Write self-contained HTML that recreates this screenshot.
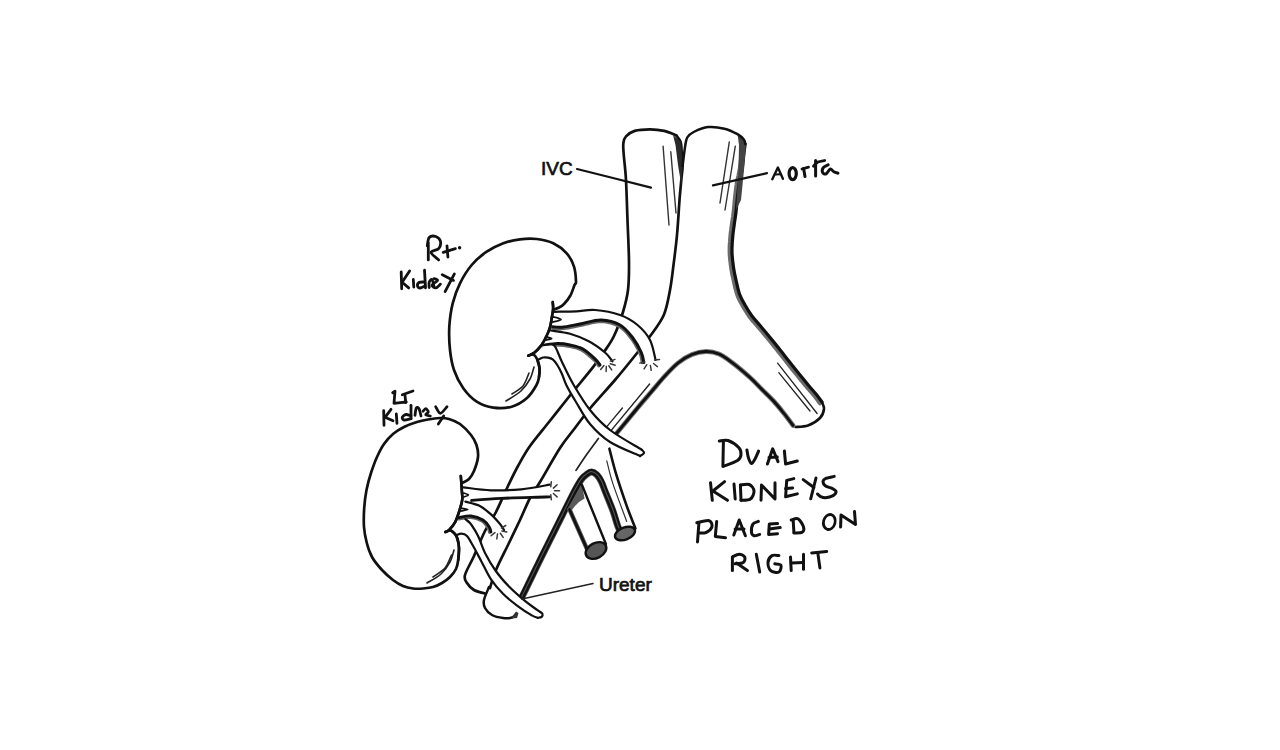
<!DOCTYPE html>
<html><head><meta charset="utf-8"><style>
html,body{margin:0;padding:0;background:#fff;}
body{width:1280px;height:750px;overflow:hidden;position:relative;}
svg{position:absolute;left:0;top:0;}
.lbl{position:absolute;font-family:"Liberation Sans",sans-serif;color:#111;white-space:nowrap;line-height:1;}
</style></head><body>
<svg width="1280" height="750" viewBox="0 0 1280 750" fill="none" stroke-linecap="round" stroke-linejoin="round">
<path d="M742.6 143.6 L742.5 144.3 L742.4 145.1 L742.3 146.0 L742.1 147.1 L742.0 148.3 L741.8 149.6 L741.6 151.1 L741.4 152.7 L741.2 154.5 L741.0 156.5 L740.8 158.7 L740.5 161.0 L740.3 163.3 L740.0 165.5 L739.7 167.7 L739.4 169.6 L739.1 171.3 L738.8 173.0 L738.4 174.5 L738.1 176.1 L737.7 177.6 L737.3 179.2 L737.0 180.8 L736.6 182.6 L736.4 184.3 L736.1 186.1 L735.9 187.8 L735.7 189.6 L735.5 191.4 L735.3 193.1 L735.1 194.9 L734.9 196.7 L734.7 198.6 L734.5 200.5 L734.3 202.4 L734.2 204.3 L734.0 206.2 L733.8 208.1 L733.6 209.9 L733.4 211.7 L733.2 213.4 L733.0 215.1 L732.8 216.7 L732.5 218.4 L732.3 220.0 L732.1 221.6 L731.8 223.1 L731.6 224.6 L731.4 226.1 L731.2 227.4 L731.0 228.7 L730.9 230.0 L730.7 231.3 L730.5 232.7 L730.4 234.1 L730.2 235.8 L730.1 237.5 L729.9 239.4 L729.8 241.4 L729.6 243.5 L729.5 245.7 L729.4 247.8 L729.4 250.0 L729.4 252.1 L729.5 254.2 L729.6 256.3 L729.8 258.4 L730.0 260.5 L730.3 262.6 L730.5 264.6 L730.8 266.5 L731.0 268.4 L731.3 270.1 L731.6 271.7 L731.8 273.2 L732.1 274.7 L732.4 276.1 L732.8 277.5 L733.1 279.0 L733.5 280.6 L733.8 282.2 L734.2 284.0 L734.6 285.8 L735.0 287.7 L735.5 289.5 L736.0 291.4 L736.5 293.2 L737.1 294.9 L737.7 296.5 L738.3 298.0 L739.0 299.5 L739.7 300.9 L740.5 302.3 L741.2 303.6 L742.0 304.9 L742.7 306.3 L743.5 307.7 L744.4 309.1 L745.2 310.5 L746.1 311.9 L747.0 313.4 L748.0 314.8 L748.9 316.2 L749.9 317.6 L751.0 318.9 L752.0 320.3 L753.1 321.6 L754.3 322.8 L755.4 324.1 L756.5 325.3 L757.5 326.5 L758.5 327.7 L759.5 328.8 L760.4 329.9 L761.2 330.9 L762.1 331.9 L763.0 333.0 L763.9 334.1 L764.9 335.3 L766.0 336.7 L767.2 338.1 L768.5 339.7 L769.9 341.4 L771.3 343.1 L772.7 344.8 L774.1 346.6 L775.6 348.4 L777.0 350.1 L778.3 351.9 L779.7 353.6 L781.1 355.4 L782.5 357.2 L783.9 358.9 L785.3 360.7 L786.6 362.4 L788.0 364.1 L789.3 365.8 L790.6 367.4 L791.8 369.0 L793.1 370.6 L794.3 372.1 L795.6 373.6 L796.8 375.2 L798.0 376.6 L799.2 378.1 L800.3 379.6 L801.5 381.0 L802.7 382.4 L803.8 383.8 L804.9 385.2 L806.0 386.4 L807.0 387.7 L808.0 388.8 L809.0 389.9 L809.9 391.0 L810.8 391.9 L811.6 392.9 L812.4 393.8 L813.2 394.7 L814.0 395.6 L814.8 396.7 L815.6 397.8 L816.5 398.9 L817.3 400.0 L818.1 401.1 L818.8 402.1 L819.4 402.9 L819.9 403.5" fill="none" stroke="#6a6a6a" stroke-width="3.6" />
<path d="M745.2 144.0 C745.0 145.5 744.5 148.7 744.0 153.0 C743.5 157.3 742.8 165.0 742.0 170.0 C741.2 175.0 740.0 178.5 739.2 183.0 C738.5 187.5 738.0 192.2 737.5 197.0 C737.0 201.8 736.5 207.3 736.0 212.0 C735.5 216.7 734.7 221.0 734.2 225.0 C733.7 229.0 733.2 231.5 732.8 236.0 C732.4 240.5 731.9 246.7 732.0 252.0 C732.1 257.3 732.9 263.3 733.6 268.0 C734.3 272.7 735.0 275.7 736.0 280.0 C737.0 284.3 738.0 289.8 739.5 294.0 C741.0 298.2 742.9 301.3 745.0 305.0 C747.1 308.7 749.4 312.5 752.0 316.0 C754.6 319.5 757.8 322.8 760.5 326.0 C763.2 329.2 764.9 331.2 768.0 335.0 C771.1 338.8 775.3 343.9 779.0 348.5 C782.7 353.1 786.5 358.1 790.0 362.5 C793.5 366.9 796.8 371.1 800.0 375.0 C803.2 378.9 806.3 382.8 809.0 386.0 C811.7 389.2 813.8 391.3 816.0 394.0 C818.2 396.7 821.0 400.7 822.0 402.0" fill="none" stroke="#111" stroke-width="3.2" />
<path d="M737.5 134.2 L744.0 139.7 L745.8 146.0 L744.0 170.0 L741.0 200.0 L736.0 210.0 L738.5 170.0 L739.0 145.0 Z" fill="#444" stroke="none"/>
<path d="M822.0 402.0 C822.3 403.2 824.3 406.3 824.0 409.0 C823.7 411.7 822.7 415.2 820.0 418.0 C817.3 420.8 812.1 424.0 808.0 425.5 C803.9 427.0 797.6 426.8 795.5 427.0" fill="none" stroke="#111" stroke-width="2.6" />
<path d="M616.0 434.0 C618.0 431.6 624.0 424.3 628.0 419.5 C632.0 414.7 636.0 409.8 640.0 405.0 C644.0 400.2 648.0 395.7 652.0 391.0 C656.0 386.3 659.7 381.7 664.0 377.0 C668.3 372.3 673.3 366.8 678.0 363.0 C682.7 359.2 687.3 356.4 692.0 354.5 C696.7 352.6 701.5 351.6 706.0 351.5 C710.5 351.4 714.7 352.2 719.0 354.0 C723.3 355.8 726.8 358.6 732.0 362.5 C737.2 366.4 745.0 373.0 750.0 377.5 C755.0 382.0 758.0 385.5 762.0 389.5 C766.0 393.5 770.3 397.5 774.0 401.5 C777.7 405.5 780.8 409.5 784.0 413.5 C787.2 417.5 791.6 423.5 793.1 425.5" fill="none" stroke="#777" stroke-width="4.8" />
<path d="M616.0 434.0 C618.0 431.6 624.0 424.3 628.0 419.5 C632.0 414.7 636.0 409.8 640.0 405.0 C644.0 400.2 648.0 395.7 652.0 391.0 C656.0 386.3 659.7 381.7 664.0 377.0 C668.3 372.3 673.3 366.8 678.0 363.0 C682.7 359.2 687.3 356.4 692.0 354.5 C696.7 352.6 701.5 351.6 706.0 351.5 C710.5 351.4 714.7 352.2 719.0 354.0 C723.3 355.8 726.8 358.6 732.0 362.5 C737.2 366.4 745.0 373.0 750.0 377.5 C755.0 382.0 758.0 385.5 762.0 389.5 C766.0 393.5 770.3 397.5 774.0 401.5 C777.7 405.5 780.8 409.5 784.0 413.5 C787.2 417.5 791.6 423.5 793.1 425.5" fill="none" stroke="#111" stroke-width="2.8" />
<path d="M777.6 363.1 L817.1 413.5" fill="none" stroke="#222" stroke-width="1.3" />
<path d="M778.8 372.7 L810.0 411.0" fill="none" stroke="#222" stroke-width="1.3" />
<path d="M649.6 384.0 L611.2 430.4" fill="none" stroke="#222" stroke-width="1.4" />
<path d="M622.4 408.0 L606.4 427.2" fill="none" stroke="#222" stroke-width="1.3" />
<path d="M598.4 438.4 C596.5 441.0 590.7 448.7 587.0 454.0 C583.3 459.3 577.8 467.7 576.0 470.4" fill="none" stroke="#222" stroke-width="1.7" />
<path d="M676.2 135.3 C674.2 134.6 668.6 131.9 664.2 130.9 C659.8 129.9 654.9 129.3 650.0 129.3 C645.1 129.3 638.7 129.7 634.7 130.9 C630.7 132.1 627.9 134.4 626.0 136.4 C624.1 138.4 623.8 140.2 623.4 143.0 C623.0 145.8 623.2 146.8 623.6 153.0 C624.0 159.2 625.4 169.0 626.0 180.2 C626.6 191.4 627.0 206.4 627.5 220.0 C628.0 233.6 628.9 250.3 629.0 262.0 C629.1 273.7 629.0 281.7 628.0 290.0 C627.0 298.3 625.3 304.3 623.0 312.0 C620.7 319.7 617.2 329.3 614.0 336.0 C610.8 342.7 607.4 346.9 604.0 352.0 C600.6 357.1 597.4 361.4 593.6 366.4 C589.8 371.4 585.3 376.7 581.0 382.0 C576.7 387.3 573.3 391.3 568.0 398.0 C562.7 404.7 555.3 414.0 549.0 422.0 C542.7 430.0 535.2 438.7 530.0 446.0 C524.8 453.3 521.7 459.3 518.0 466.0 C514.3 472.7 511.7 478.3 508.0 486.0 C504.3 493.7 499.8 504.5 496.0 512.0 C492.2 519.5 488.7 523.7 485.0 531.0 C481.3 538.3 477.3 548.7 474.0 556.0 C470.7 563.3 466.2 570.5 465.0 575.0 C463.8 579.5 465.5 580.5 467.0 583.0 C468.5 585.5 471.0 588.2 474.0 590.0 C477.0 591.8 483.2 592.9 485.0 593.5" fill="none" stroke="#111" stroke-width="2.7" />
<path d="M676.2 135.3 C676.9 136.4 679.7 139.0 680.6 141.9 C681.5 144.8 681.4 148.8 681.7 152.8 C682.0 156.8 682.6 161.8 682.6 166.0 C682.6 170.2 682.0 172.3 681.5 178.0 C681.0 183.7 680.2 190.5 679.5 200.0 C678.8 209.5 678.0 224.2 677.0 235.0 C676.0 245.8 674.7 255.8 673.5 265.0 C672.3 274.2 671.6 281.7 670.0 290.0 C668.4 298.3 667.1 307.3 663.8 315.0 C660.5 322.7 654.4 330.1 650.0 336.3 C645.6 342.6 643.3 345.2 637.5 352.5 C631.7 359.8 622.9 370.8 615.0 380.0 C607.1 389.2 597.1 400.0 590.4 408.0 C583.7 416.0 580.1 421.3 575.0 428.0 C569.9 434.7 565.8 439.0 560.0 448.0 C554.2 457.0 545.0 473.7 540.0 482.0 C535.0 490.3 533.3 491.7 530.0 498.0 C526.7 504.3 523.7 512.2 520.0 520.0 C516.3 527.8 512.0 536.7 508.0 545.0 C504.0 553.3 499.0 562.8 496.0 570.0 C493.0 577.2 491.0 585.0 490.0 588.0" fill="none" stroke="#111" stroke-width="2.7" />
<path d="M673.0 135.0 L680.6 141.5 L682.8 160.0 L681.5 186.0 L678.0 165.0 L675.5 145.0 Z" fill="#2a2a2a" stroke="none"/>
<path d="M682.6 166.0 C683.0 162.9 684.2 152.1 685.0 147.3 C685.8 142.6 685.8 140.1 687.2 137.5 C688.7 134.9 690.2 133.7 693.7 132.0 C697.2 130.3 702.9 127.6 708.0 127.1 C713.1 126.5 719.5 127.5 724.4 128.7 C729.3 129.9 734.2 132.4 737.5 134.2 C740.8 136.0 742.7 138.1 744.0 139.7 C745.3 141.3 745.0 143.3 745.2 144.0" fill="none" stroke="#111" stroke-width="2.5" />
<path d="M489.0 587.0 C488.2 589.2 484.7 596.5 484.0 600.0 C483.3 603.5 483.7 605.5 485.0 608.0 C486.3 610.5 489.0 613.3 492.0 615.0 C495.0 616.7 499.7 617.6 503.0 618.0 C506.3 618.4 509.8 618.2 512.0 617.5 C514.2 616.8 515.8 614.6 516.5 614.0" fill="none" stroke="#111" stroke-width="2.5" />
<path d="M511.0 618.5 L516.0 611.5 L518.5 613.0 L517.0 618.0 Z" fill="#333" stroke="none"/>
<path d="M663.1 146.2 L669.0 225.0" fill="none" stroke="#333" stroke-width="1.4" />
<path d="M670.8 151.7 L676.0 213.0" fill="none" stroke="#333" stroke-width="1.4" />
<path d="M729.3 141.9 L720.0 203.0" fill="none" stroke="#333" stroke-width="1.4" />
<path d="M735.3 146.2 L725.0 210.0" fill="none" stroke="#333" stroke-width="1.4" />
<path d="M577.0 169.0 L615.0 178.5 L651.0 187.6" fill="none" stroke="#111" stroke-width="2.2" />
<path d="M767.0 173.2 L755.0 175.8 L713.0 185.4" fill="none" stroke="#111" stroke-width="2.2" />
<path d="M521.0 599.0 C522.8 595.4 528.0 584.7 531.5 577.5 C535.0 570.3 538.5 563.1 542.0 556.0 C545.5 548.9 549.0 542.0 552.5 535.0 C556.0 528.0 559.6 520.8 563.0 514.0 C566.4 507.2 570.0 499.7 573.0 494.0 C576.0 488.3 578.8 483.2 581.0 480.0 C583.2 476.8 584.8 475.8 586.5 474.5 C588.2 473.2 589.8 471.9 591.5 472.0 C593.2 472.1 595.3 473.3 597.0 475.0 C598.7 476.7 600.2 479.3 601.5 482.0 C602.8 484.7 603.1 486.2 605.0 491.0 C606.9 495.8 610.6 504.6 612.8 510.5 C615.0 516.5 616.5 522.9 618.0 526.7 C619.5 530.6 620.9 532.5 621.5 533.6" fill="none" stroke="#555" stroke-width="6.8" />
<path d="M522.3 599.6 L523.1 598.0 L524.1 595.8 L525.4 593.1 L526.9 590.2 L528.4 587.1 L529.9 584.0 L531.4 580.9 L532.8 578.1 L534.1 575.4 L535.4 572.7 L536.7 570.0 L538.0 567.3 L539.3 564.6 L540.6 562.0 L541.9 559.3 L543.3 556.6 L544.6 554.0 L545.9 551.3 L547.2 548.7 L548.5 546.1 L549.8 543.5 L551.1 540.9 L552.4 538.2 L553.8 535.6 L555.1 533.0 L556.4 530.4 L557.7 527.7 L559.0 525.1 L560.4 522.4 L561.7 519.8 L563.0 517.2 L564.3 514.6 L565.5 512.0 L566.8 509.4 L568.1 506.8 L569.4 504.2 L570.7 501.6 L571.9 499.2 L573.1 496.8 L574.2 494.7 L575.3 492.6 L576.4 490.5 L577.5 488.6 L578.5 486.8 L579.5 485.1 L580.4 483.5 L581.3 482.1 L582.2 480.8 L582.9 479.7 L583.6 478.9 L584.3 478.2 L584.9 477.6 L585.5 477.0 L586.1 476.6 L586.7 476.1 L587.3 475.6 L588.0 475.1 L588.6 474.7 L589.2 474.3 L589.7 473.9 L590.2 473.7 L590.6 473.5 L591.0 473.4 L591.4 473.4 L591.9 473.5 L592.4 473.6 L593.0 473.8 L593.6 474.1 L594.2 474.5 L594.8 474.9 L595.4 475.4 L596.0 476.0 L596.6 476.6 L597.1 477.3 L597.6 478.0 L598.2 478.9 L598.7 479.8 L599.2 480.7 L599.7 481.6 L600.2 482.6 L600.7 483.5 L601.0 484.4 L601.4 485.3 L601.7 486.2 L602.1 487.2 L602.5 488.4 L603.1 489.9 L603.7 491.5 L604.5 493.5 L605.4 495.7 L606.4 498.2 L607.5 500.8 L608.6 503.5 L609.6 506.1 L610.6 508.6 L611.5 511.0 L612.3 513.2 L613.0 515.4 L613.7 517.6 L614.3 519.8 L614.9 521.9 L615.5 523.8 L616.1 525.6 L616.7 527.2 L617.3 528.6 L617.8 529.8 L618.3 530.9 L618.9 531.8 L619.3 532.6 L619.7 533.3 L620.0 533.8 L620.3 534.3" fill="none" stroke="#111" stroke-width="2.4" />
<path d="M519.3 598.2 L520.1 596.5 L521.2 594.3 L522.5 591.7 L523.9 588.8 L525.4 585.7 L526.9 582.5 L528.4 579.5 L529.8 576.7 L531.1 574.0 L532.4 571.3 L533.7 568.6 L535.0 565.9 L536.4 563.2 L537.7 560.5 L539.0 557.8 L540.3 555.2 L541.6 552.5 L542.9 549.9 L544.2 547.2 L545.6 544.6 L546.9 542.0 L548.2 539.4 L549.5 536.8 L550.8 534.1 L552.1 531.5 L553.4 528.9 L554.8 526.2 L556.1 523.6 L557.4 521.0 L558.7 518.3 L560.0 515.7 L561.3 513.2 L562.6 510.6 L563.9 507.9 L565.2 505.3 L566.5 502.7 L567.7 500.2 L569.0 497.7 L570.2 495.3 L571.3 493.1 L572.4 491.0 L573.5 489.0 L574.6 487.0 L575.6 485.2 L576.6 483.4 L577.6 481.8 L578.5 480.3 L579.4 478.9 L580.3 477.7 L581.1 476.7 L581.9 475.9 L582.6 475.1 L583.4 474.5 L584.1 474.0 L584.7 473.5 L585.4 473.0 L586.0 472.5 L586.7 472.0 L587.3 471.5 L588.1 471.1 L588.8 470.7 L589.7 470.3 L590.6 470.1 L591.6 470.1 L592.5 470.2 L593.5 470.5 L594.3 470.8 L595.2 471.2 L596.0 471.8 L596.8 472.3 L597.6 473.0 L598.4 473.7 L599.1 474.4 L599.7 475.3 L600.4 476.2 L601.0 477.1 L601.6 478.1 L602.1 479.1 L602.7 480.1 L603.2 481.2 L603.7 482.2 L604.1 483.1 L604.5 484.1 L604.8 485.1 L605.2 486.1 L605.6 487.3 L606.1 488.7 L606.8 490.3 L607.5 492.2 L608.5 494.5 L609.5 497.0 L610.6 499.6 L611.6 502.3 L612.7 504.9 L613.7 507.5 L614.6 509.9 L615.4 512.1 L616.1 514.4 L616.8 516.7 L617.5 518.8 L618.1 520.9 L618.7 522.8 L619.2 524.5 L619.8 526.0 L620.3 527.3 L620.8 528.4 L621.3 529.4 L621.7 530.2 L622.2 531.0 L622.5 531.6 L622.9 532.2 L623.2 532.7" fill="none" stroke="#111" stroke-width="2.0" />
<path d="M582.0 484.0 L567.0 509.5 L571.5 510.5 L575.0 506.0 L579.0 502.0 L584.5 498.5 Z" fill="#5a5a5a" stroke="none"/>
<path d="M569.5 509.4 L588.6 552.7" fill="none" stroke="#555" stroke-width="4.4" />
<path d="M569.5 509.4 L588.6 552.7" fill="none" stroke="#111" stroke-width="2.6" />
<path d="M582.0 485.0 L605.9 544.0" fill="none" stroke="#111" stroke-width="2.4" />
<ellipse cx="596" cy="550.5" rx="11" ry="7.5" transform="rotate(-28 596 550.5)" fill="#555" stroke="#111" stroke-width="2.4"/>
<path d="M609.4 448.7 C610.5 453.0 613.4 465.2 616.3 474.7 C619.2 484.2 623.5 496.9 626.7 505.9 C629.9 514.9 634.0 524.6 635.4 528.4" fill="none" stroke="#111" stroke-width="2.6" />
<path d="M606.8 460.8 C607.8 464.6 609.5 473.3 612.8 483.4 C616.1 493.5 624.4 515.1 626.7 521.5" fill="none" stroke="#333" stroke-width="1.2" />
<ellipse cx="625" cy="533.5" rx="10.5" ry="6" transform="rotate(-22 625 533.5)" fill="#666" stroke="#111" stroke-width="2.4"/>
<path d="M553.8 309.5 C554.8 310.4 556.8 308.7 558.5 307.8 C560.2 306.9 562.0 306.1 564.0 304.0 C566.0 301.9 568.6 298.7 570.4 295.5 C572.1 292.3 573.6 287.3 574.5 285.0 C575.4 282.7 576.1 284.8 576.0 281.7 C575.9 278.6 575.5 271.4 574.0 266.7 C572.5 262.0 570.2 257.2 566.7 253.3 C563.2 249.4 558.3 245.7 553.3 243.3 C548.3 240.9 542.2 239.7 536.7 239.0 C531.2 238.3 525.6 238.6 520.0 239.3 C514.4 240.0 508.9 241.2 503.3 243.3 C497.8 245.4 492.0 248.1 486.7 251.7 C481.4 255.3 476.1 259.7 471.7 265.0 C467.2 270.3 463.2 276.9 460.0 283.3 C456.8 289.7 454.5 296.1 452.7 303.3 C450.9 310.5 449.8 318.9 449.3 326.7 C448.9 334.5 449.2 342.8 450.0 350.0 C450.8 357.2 451.8 363.6 454.0 370.0 C456.2 376.4 459.5 383.0 463.3 388.3 C467.1 393.6 471.7 398.5 476.7 401.7 C481.7 404.9 487.5 406.9 493.3 407.7 C499.1 408.5 506.1 408.3 511.7 406.7 C517.3 405.1 522.6 401.9 526.7 398.3 C530.8 394.7 534.5 388.6 536.5 385.0 C538.5 381.4 538.5 379.8 539.0 377.0 C539.5 374.2 539.8 370.8 539.5 368.0 C539.2 365.2 538.5 362.7 537.5 360.5 C536.5 358.3 535.0 355.8 533.5 355.0 C532.0 354.2 528.4 355.9 528.5 355.5 C528.6 355.1 532.0 354.4 534.0 352.9 C536.0 351.4 538.5 349.0 540.5 346.4 C542.5 343.8 544.5 340.1 546.1 337.0 C547.7 333.9 549.0 330.8 549.9 327.7 C550.8 324.6 551.2 321.4 551.7 318.3 C552.2 315.2 552.9 311.6 553.1 309.0 C553.3 306.4 552.6 302.4 552.7 302.5 C552.8 302.6 552.8 308.6 553.8 309.5 Z" fill="#fff" stroke="none"/>
<path d="M553.8 309.5 C554.6 309.2 556.8 308.7 558.5 307.8 C560.2 306.9 562.0 306.1 564.0 304.0 C566.0 301.9 568.6 298.7 570.4 295.5 C572.1 292.3 573.6 287.3 574.5 285.0 C575.4 282.7 576.1 284.8 576.0 281.7 C575.9 278.6 575.5 271.4 574.0 266.7 C572.5 262.0 570.2 257.2 566.7 253.3 C563.2 249.4 558.3 245.7 553.3 243.3 C548.3 240.9 542.2 239.7 536.7 239.0 C531.2 238.3 525.6 238.6 520.0 239.3 C514.4 240.0 508.9 241.2 503.3 243.3 C497.8 245.4 492.0 248.1 486.7 251.7 C481.4 255.3 476.1 259.7 471.7 265.0 C467.2 270.3 463.2 276.9 460.0 283.3 C456.8 289.7 454.5 296.1 452.7 303.3 C450.9 310.5 449.8 318.9 449.3 326.7 C448.9 334.5 449.2 342.8 450.0 350.0 C450.8 357.2 451.8 363.6 454.0 370.0 C456.2 376.4 459.5 383.0 463.3 388.3 C467.1 393.6 471.7 398.5 476.7 401.7 C481.7 404.9 487.5 406.9 493.3 407.7 C499.1 408.5 506.1 408.3 511.7 406.7 C517.3 405.1 522.6 401.9 526.7 398.3 C530.8 394.7 534.5 388.6 536.5 385.0 C538.5 381.4 538.5 379.8 539.0 377.0 C539.5 374.2 539.8 370.8 539.5 368.0 C539.2 365.2 537.8 361.8 537.5 360.5" fill="none" stroke="#111" stroke-width="2.7" />
<path d="M528.4 355.7 C529.3 355.2 532.0 354.4 534.0 352.9 C536.0 351.3 538.5 349.0 540.5 346.4 C542.5 343.8 544.5 340.1 546.1 337.0 C547.7 333.9 549.0 330.8 549.9 327.7 C550.8 324.6 551.2 321.4 551.7 318.3 C552.2 315.2 552.9 311.7 553.1 309.0 C553.3 306.3 552.8 303.2 552.7 302.0" fill="none" stroke="#111" stroke-width="2.6" />
<path d="M506.0 401.0 C508.5 399.3 517.0 394.7 521.0 391.0 C525.0 387.3 527.8 383.0 530.0 379.0 C532.2 375.0 533.3 369.0 534.0 367.0" fill="none" stroke="#222" stroke-width="1.6" />
<path d="M512.0 394.0 C513.8 392.7 520.2 389.5 523.0 386.0 C525.8 382.5 528.0 375.2 529.0 373.0" fill="none" stroke="#222" stroke-width="1.6" />
<path d="M463.0 482.5 C464.4 483.0 467.2 480.9 469.0 479.0 C470.8 477.1 472.5 474.7 474.0 471.0 C475.5 467.3 477.6 461.3 478.0 457.0 C478.4 452.7 477.7 448.7 476.5 445.0 C475.3 441.3 473.8 438.5 471.0 435.0 C468.2 431.5 463.7 426.7 460.0 424.0 C456.3 421.3 452.3 420.0 449.0 419.0 C445.7 418.0 443.5 417.9 440.0 418.0 C436.5 418.1 431.8 418.8 428.0 419.5 C424.2 420.2 421.0 420.8 417.0 422.0 C413.0 423.2 408.0 425.0 404.0 427.0 C400.0 429.0 396.3 431.2 393.0 434.0 C389.7 436.8 386.7 440.2 384.0 444.0 C381.3 447.8 379.2 452.2 377.0 457.0 C374.8 461.8 372.8 467.5 371.0 473.0 C369.2 478.5 367.6 484.2 366.5 490.0 C365.4 495.8 364.6 501.8 364.2 508.0 C363.8 514.2 363.6 521.2 364.0 527.0 C364.4 532.8 365.5 538.0 366.8 543.0 C368.1 548.0 369.5 552.5 372.0 557.0 C374.5 561.5 378.5 566.2 382.0 570.0 C385.5 573.8 389.5 577.3 393.0 580.0 C396.5 582.7 399.7 584.6 403.0 586.0 C406.3 587.4 409.7 588.1 413.0 588.5 C416.3 588.9 419.7 588.8 423.0 588.5 C426.3 588.2 429.8 587.9 433.0 587.0 C436.2 586.1 439.2 584.7 442.0 583.0 C444.8 581.3 447.7 579.3 450.0 577.0 C452.3 574.7 454.6 571.8 456.0 569.0 C457.4 566.2 457.7 563.5 458.2 560.0 C458.7 556.5 459.1 551.5 459.0 548.0 C458.9 544.5 458.2 541.3 457.5 539.0 C456.8 536.7 456.1 535.4 455.0 534.0 C453.9 532.6 452.6 530.9 451.0 530.6 C449.4 530.3 445.7 532.2 445.4 532.0 C445.1 531.8 447.8 531.2 449.4 529.6 C451.0 528.0 453.4 525.3 455.0 522.4 C456.6 519.5 457.8 515.7 459.0 512.0 C460.2 508.3 461.7 503.6 462.2 500.0 C462.7 496.4 462.0 494.3 461.8 490.3 C461.6 486.3 460.6 477.3 460.8 476.0 C461.0 474.7 461.6 482.0 463.0 482.5 Z" fill="#fff" stroke="none"/>
<path d="M463.0 482.5 C464.0 481.9 467.2 480.9 469.0 479.0 C470.8 477.1 472.5 474.7 474.0 471.0 C475.5 467.3 477.6 461.3 478.0 457.0 C478.4 452.7 477.7 448.7 476.5 445.0 C475.3 441.3 473.8 438.5 471.0 435.0 C468.2 431.5 463.7 426.7 460.0 424.0 C456.3 421.3 452.3 420.0 449.0 419.0 C445.7 418.0 443.5 417.9 440.0 418.0 C436.5 418.1 431.8 418.8 428.0 419.5 C424.2 420.2 421.0 420.8 417.0 422.0 C413.0 423.2 408.0 425.0 404.0 427.0 C400.0 429.0 396.3 431.2 393.0 434.0 C389.7 436.8 386.7 440.2 384.0 444.0 C381.3 447.8 379.2 452.2 377.0 457.0 C374.8 461.8 372.8 467.5 371.0 473.0 C369.2 478.5 367.6 484.2 366.5 490.0 C365.4 495.8 364.6 501.8 364.2 508.0 C363.8 514.2 363.6 521.2 364.0 527.0 C364.4 532.8 365.5 538.0 366.8 543.0 C368.1 548.0 369.5 552.5 372.0 557.0 C374.5 561.5 378.5 566.2 382.0 570.0 C385.5 573.8 389.5 577.3 393.0 580.0 C396.5 582.7 399.7 584.6 403.0 586.0 C406.3 587.4 409.7 588.1 413.0 588.5 C416.3 588.9 419.7 588.8 423.0 588.5 C426.3 588.2 429.8 587.9 433.0 587.0 C436.2 586.1 439.2 584.7 442.0 583.0 C444.8 581.3 447.7 579.3 450.0 577.0 C452.3 574.7 454.6 571.8 456.0 569.0 C457.4 566.2 457.7 563.5 458.2 560.0 C458.7 556.5 459.1 551.5 459.0 548.0 C458.9 544.5 458.2 541.3 457.5 539.0 C456.8 536.7 456.1 535.4 455.0 534.0 C453.9 532.6 451.7 531.2 451.0 530.6" fill="none" stroke="#111" stroke-width="2.7" />
<path d="M445.4 532.0 C446.1 531.6 447.8 531.2 449.4 529.6 C451.0 528.0 453.4 525.3 455.0 522.4 C456.6 519.5 457.8 515.7 459.0 512.0 C460.2 508.3 461.7 503.6 462.2 500.0 C462.7 496.4 462.0 494.3 461.8 490.3 C461.6 486.3 461.0 478.4 460.8 476.0" fill="none" stroke="#111" stroke-width="2.6" />
<path d="M427.0 583.0 C429.3 581.5 437.2 577.5 441.0 574.0 C444.8 570.5 447.8 566.0 450.0 562.0 C452.2 558.0 453.3 552.0 454.0 550.0" fill="none" stroke="#222" stroke-width="1.6" />
<path d="M433.0 577.0 C435.0 575.5 441.9 571.7 445.0 568.0 C448.1 564.3 450.4 557.2 451.5 555.0" fill="none" stroke="#222" stroke-width="1.6" />
<path d="M554.5 311.8 C558.1 311.7 569.5 311.6 576.3 311.3 C583.0 311.0 587.7 309.4 595.0 310.0 C602.3 310.6 612.9 312.5 620.0 315.0 C627.1 317.5 632.5 320.8 637.5 325.0 C642.5 329.2 647.0 334.2 650.0 340.0 C653.0 345.8 654.7 356.7 655.6 360.0 L643.8 362.5 C643.4 360.8 643.2 356.7 641.3 352.5 C639.4 348.3 636.0 342.1 632.5 337.5 C629.0 332.9 625.2 327.9 620.0 325.0 C614.8 322.1 608.0 320.2 601.3 320.0 C594.6 319.8 586.5 322.8 580.0 324.0 C573.5 325.2 566.5 326.8 562.0 327.2 C557.5 327.6 554.2 326.8 552.7 326.7 Z" fill="#fff" stroke="none"/>
<path d="M554.5 311.8 C558.1 311.7 569.5 311.6 576.3 311.3 C583.0 311.0 587.7 309.4 595.0 310.0 C602.3 310.6 612.9 312.5 620.0 315.0 C627.1 317.5 632.5 320.8 637.5 325.0 C642.5 329.2 647.0 334.2 650.0 340.0 C653.0 345.8 654.7 356.7 655.6 360.0" fill="none" stroke="#111" stroke-width="2.2" />
<path d="M552.5 328.3 L553.2 328.4 L553.9 328.5 L554.9 328.6 L556.1 328.7 L557.4 328.9 L558.8 328.9 L560.4 328.9 L562.2 328.8 L564.0 328.6 L566.1 328.3 L568.3 327.9 L570.5 327.5 L572.9 327.0 L575.4 326.5 L577.8 326.0 L580.3 325.6 L582.9 325.0 L585.5 324.4 L588.2 323.7 L591.0 323.0 L593.7 322.4 L596.3 322.0 L598.9 321.7 L601.3 321.6 L603.7 321.7 L606.1 322.0 L608.4 322.5 L610.8 323.0 L613.0 323.7 L615.2 324.5 L617.3 325.4 L619.2 326.4 L621.0 327.5 L622.6 328.8 L624.2 330.2 L625.7 331.7 L627.1 333.3 L628.5 335.0 L629.9 336.8 L631.2 338.5 L632.5 340.2 L633.8 342.1 L635.0 344.0 L636.1 346.0 L637.2 347.9 L638.2 349.8 L639.1 351.5 L639.8 353.1 L640.4 354.6 L640.9 356.0 L641.3 357.4 L641.5 358.7 L641.7 360.0 L641.9 361.1 L642.1 362.0 L642.2 362.8" fill="none" stroke="#666" stroke-width="3.0" />
<path d="M552.7 326.7 C554.2 326.8 557.5 327.6 562.0 327.2 C566.5 326.8 573.5 325.2 580.0 324.0 C586.5 322.8 594.6 319.8 601.3 320.0 C608.0 320.2 614.8 322.1 620.0 325.0 C625.2 327.9 629.0 332.9 632.5 337.5 C636.0 342.1 639.4 348.3 641.3 352.5 C643.2 356.7 643.4 360.8 643.8 362.5" fill="none" stroke="#111" stroke-width="3.0" />
<path d="M644.7 361.8 L639.8 363.1 M646.8 364.7 L644.1 368.9 M650.4 365.4 L651.2 370.3 M653.5 363.5 L657.4 366.6 M654.5 360.1 L659.5 359.6" stroke="#3a3a3a" stroke-width="1.5" fill="none" stroke-linecap="round"/>
<path d="M550.8 330.5 C554.0 331.1 563.7 332.0 570.0 333.8 C576.3 335.6 583.0 338.2 588.8 341.3 C594.6 344.4 601.0 349.2 605.0 352.5 C609.0 355.8 611.2 359.8 612.5 361.3 L600.0 365.0 C599.2 364.0 597.9 361.5 595.0 358.8 C592.1 356.1 586.7 351.1 582.5 348.8 C578.3 346.5 574.2 345.9 570.0 345.0 C565.8 344.1 561.8 343.5 557.3 343.6 C552.8 343.7 545.6 345.1 543.3 345.4 Z" fill="#fff" stroke="none"/>
<path d="M550.8 330.5 C554.0 331.1 563.7 332.0 570.0 333.8 C576.3 335.6 583.0 338.2 588.8 341.3 C594.6 344.4 601.0 349.2 605.0 352.5 C609.0 355.8 611.2 359.8 612.5 361.3" fill="none" stroke="#111" stroke-width="2.2" />
<path d="M543.5 347.0 L544.6 346.8 L546.1 346.6 L547.8 346.3 L549.7 346.0 L551.7 345.7 L553.7 345.5 L555.6 345.3 L557.3 345.2 L558.9 345.2 L560.5 345.3 L562.0 345.4 L563.6 345.5 L565.1 345.7 L566.6 346.0 L568.1 346.3 L569.7 346.6 L571.3 346.9 L572.8 347.2 L574.3 347.5 L575.8 347.9 L577.3 348.3 L578.8 348.9 L580.3 349.5 L581.7 350.2 L583.2 351.1 L584.9 352.2 L586.5 353.5 L588.2 354.9 L589.8 356.3 L591.3 357.6 L592.7 358.9 L593.9 360.0 L594.9 360.9 L595.7 361.8 L596.4 362.7 L597.0 363.5 L597.5 364.2 L598.0 364.9 L598.4 365.5 L598.7 366.0" fill="none" stroke="#666" stroke-width="3.0" />
<path d="M543.3 345.4 C545.6 345.1 552.8 343.7 557.3 343.6 C561.8 343.5 565.8 344.1 570.0 345.0 C574.2 345.9 578.3 346.5 582.5 348.8 C586.7 351.1 592.1 356.1 595.0 358.8 C597.9 361.5 599.2 364.0 600.0 365.0" fill="none" stroke="#111" stroke-width="3.0" />
<path d="M603.9 365.6 L600.7 369.4 M606.3 366.5 L606.1 371.5 M608.8 365.8 L611.7 369.9 M610.3 363.7 L615.1 365.2 M610.3 361.1 L615.0 359.4" stroke="#3a3a3a" stroke-width="1.5" fill="none" stroke-linecap="round"/>
<path d="M552.7 316.8 C554.1 317.2 561.0 318.6 561.0 319.5 C561.0 320.4 554.1 321.6 552.7 322.0" fill="none" stroke="#111" stroke-width="1.8" />
<path d="M545.5 337.0 C546.5 337.2 551.8 337.9 551.7 338.5 C551.6 339.1 546.1 340.0 545.0 340.3" fill="none" stroke="#111" stroke-width="1.8" />
<path d="M463.4 487.3 C468.0 487.8 481.2 490.0 490.8 490.3 C500.4 490.6 511.5 490.2 521.3 489.3 C531.1 488.4 545.0 485.5 549.7 484.7 L549.7 496.9 C546.7 497.0 539.5 497.1 531.4 497.4 C523.3 497.6 511.0 497.9 501.0 498.4 C491.0 498.9 476.4 500.1 471.5 500.5 Z" fill="#fff" stroke="none"/>
<path d="M463.4 487.3 C468.0 487.8 481.2 490.0 490.8 490.3 C500.4 490.6 511.5 490.2 521.3 489.3 C531.1 488.4 545.0 485.5 549.7 484.7" fill="none" stroke="#111" stroke-width="2.2" />
<path d="M471.5 500.5 C476.4 500.1 491.0 498.9 501.0 498.4 C511.0 497.9 523.3 497.6 531.4 497.4 C539.5 497.1 546.7 497.0 549.7 496.9" fill="none" stroke="#111" stroke-width="2.8" />
<path d="M550.8 486.8 L551.3 481.8 M553.4 488.1 L557.1 484.7 M554.5 490.8 L559.5 490.8 M553.4 493.5 L557.1 496.9 M550.8 494.8 L551.3 499.8" stroke="#3a3a3a" stroke-width="1.5" fill="none" stroke-linecap="round"/>
<path d="M465.4 501.6 C467.7 502.3 474.7 503.5 479.0 505.6 C483.3 507.7 487.5 511.3 491.0 514.4 C494.5 517.5 497.8 521.4 500.0 524.0 C502.2 526.6 503.3 529.0 504.0 530.0 L491.0 532.0 C490.7 531.2 490.7 529.2 489.4 527.2 C488.1 525.2 486.1 521.9 483.0 520.0 C479.9 518.1 475.0 516.4 471.0 516.0 C467.0 515.6 461.0 517.3 459.0 517.6 Z" fill="#fff" stroke="none"/>
<path d="M465.4 501.6 C467.7 502.3 474.7 503.5 479.0 505.6 C483.3 507.7 487.5 511.3 491.0 514.4 C494.5 517.5 497.8 521.4 500.0 524.0 C502.2 526.6 503.3 529.0 504.0 530.0" fill="none" stroke="#111" stroke-width="2.2" />
<path d="M459.3 519.1 L460.2 518.9 L461.5 518.6 L462.9 518.3 L464.5 518.0 L466.2 517.7 L467.9 517.5 L469.4 517.4 L470.9 517.5 L472.3 517.7 L473.8 518.0 L475.3 518.4 L476.9 518.9 L478.4 519.4 L479.8 520.0 L481.1 520.6 L482.2 521.3 L483.2 521.9 L484.1 522.7 L484.9 523.6 L485.7 524.5 L486.4 525.4 L487.0 526.3 L487.6 527.2 L488.1 528.0 L488.5 528.6 L488.8 529.2 L489.0 529.8 L489.1 530.4 L489.3 530.9 L489.3 531.5 L489.4 532.0 L489.5 532.4" fill="none" stroke="#666" stroke-width="3.0" />
<path d="M459.0 517.6 C461.0 517.3 467.0 515.6 471.0 516.0 C475.0 516.4 479.9 518.1 483.0 520.0 C486.1 521.9 488.1 525.2 489.4 527.2 C490.7 529.2 490.7 531.2 491.0 532.0" fill="none" stroke="#111" stroke-width="2.8" />
<path d="M494.9 532.6 L491.1 535.8 M497.5 534.0 L496.8 538.9 M500.3 533.3 L503.2 537.4 M501.9 530.9 L506.8 531.9 M501.5 528.0 L505.8 525.5" stroke="#3a3a3a" stroke-width="1.5" fill="none" stroke-linecap="round"/>
<path d="M463.4 493.0 C464.2 493.3 468.4 494.3 468.4 495.0 C468.4 495.7 464.2 496.7 463.4 497.0" fill="none" stroke="#111" stroke-width="1.6" />
<path d="M459.8 508.0 C461.1 508.3 467.8 509.1 467.8 509.6 C467.8 510.1 461.1 510.9 459.8 511.2" fill="none" stroke="#111" stroke-width="1.8" />
<path d="M528.4 355.7 C529.3 355.2 532.0 354.4 534.0 352.9 C536.0 351.3 538.5 349.0 540.5 346.4 C542.5 343.8 544.5 340.1 546.1 337.0 C547.7 333.9 549.0 330.8 549.9 327.7 C550.8 324.6 551.2 321.4 551.7 318.3 C552.2 315.2 552.9 311.7 553.1 309.0 C553.3 306.3 552.8 303.2 552.7 302.0" fill="none" stroke="#111" stroke-width="2.6" />
<path d="M445.4 532.0 C446.1 531.6 447.8 531.2 449.4 529.6 C451.0 528.0 453.4 525.3 455.0 522.4 C456.6 519.5 457.8 515.7 459.0 512.0 C460.2 508.3 461.7 503.6 462.2 500.0 C462.7 496.4 462.0 494.3 461.8 490.3 C461.6 486.3 461.0 478.4 460.8 476.0" fill="none" stroke="#111" stroke-width="2.6" />
<path d="M543.0 345.2 C544.5 345.1 549.6 344.1 551.7 344.5 C553.8 344.9 553.8 344.4 555.5 347.3 C557.2 350.2 559.0 355.7 562.0 362.0 C565.0 368.3 569.0 377.0 573.7 385.0 C578.4 393.0 584.0 402.5 590.0 410.0 C596.0 417.5 601.4 423.4 610.0 430.0 C618.6 436.6 636.3 446.3 641.6 449.6 L640.0 456.0 C635.0 453.7 618.3 447.3 610.0 442.0 C601.7 436.7 595.7 430.7 590.0 424.0 C584.3 417.3 580.0 408.5 576.0 402.0 C572.0 395.5 568.6 389.7 566.3 385.0 C564.0 380.3 563.5 377.3 562.0 374.0 C560.5 370.7 558.8 367.4 557.3 365.0 C555.8 362.6 554.2 360.6 552.7 359.4 C551.2 358.2 549.6 357.9 548.0 357.6 C546.4 357.3 544.5 357.2 543.0 357.5 C541.5 357.8 539.4 359.1 538.7 359.4 Z" fill="#fff" stroke="none"/>
<path d="M543.0 345.2 C544.5 345.1 549.6 344.1 551.7 344.5 C553.8 344.9 553.8 344.4 555.5 347.3 C557.2 350.2 559.0 355.7 562.0 362.0 C565.0 368.3 569.0 377.0 573.7 385.0 C578.4 393.0 584.0 402.5 590.0 410.0 C596.0 417.5 601.4 423.4 610.0 430.0 C618.6 436.6 636.3 446.3 641.6 449.6" fill="none" stroke="#111" stroke-width="2.2" />
<path d="M538.7 359.4 C539.4 359.1 541.5 357.8 543.0 357.5 C544.5 357.2 546.4 357.3 548.0 357.6 C549.6 357.9 551.2 358.2 552.7 359.4 C554.2 360.6 555.8 362.6 557.3 365.0 C558.8 367.4 560.5 370.7 562.0 374.0 C563.5 377.3 564.0 380.3 566.3 385.0 C568.6 389.7 572.0 395.5 576.0 402.0 C580.0 408.5 584.3 417.3 590.0 424.0 C595.7 430.7 601.7 436.7 610.0 442.0 C618.3 447.3 635.0 453.7 640.0 456.0" fill="none" stroke="#111" stroke-width="2.2" />
<path d="M640.0 456.0 C640.7 455.5 643.7 454.1 644.0 453.0 C644.3 451.9 642.0 450.2 641.6 449.6" fill="none" stroke="#111" stroke-width="2.2" />
<path d="M528.4 355.7 C529.2 355.5 532.0 353.9 533.5 354.6 C535.0 355.3 536.5 357.8 537.5 360.0 C538.5 362.2 539.2 365.2 539.5 368.0 C539.8 370.8 539.1 375.5 539.0 377.0" fill="none" stroke="#111" stroke-width="2.6" />
<path d="M465.4 519.2 C466.2 519.9 468.6 521.3 470.2 523.2 C471.8 525.1 473.5 527.9 475.0 530.4 C476.5 532.9 477.3 534.2 479.0 538.0 C480.7 541.8 482.2 547.5 485.0 553.0 C487.8 558.5 491.8 565.4 495.8 571.0 C499.8 576.6 504.6 582.0 509.0 586.6 C513.4 591.2 518.2 595.2 522.2 598.6 C526.2 602.0 530.0 604.8 533.0 607.0 C536.0 609.2 538.8 611.0 540.0 611.8 L537.8 617.8 C536.8 617.4 535.2 617.4 531.8 615.4 C528.4 613.4 522.2 609.4 517.4 605.8 C512.6 602.2 507.4 598.2 503.0 593.8 C498.6 589.4 494.6 584.8 491.0 579.4 C487.4 574.0 484.4 567.0 481.4 561.4 C478.4 555.8 475.4 550.0 473.0 545.8 C470.6 541.6 468.9 538.0 467.0 536.0 C465.1 534.0 463.1 533.7 461.4 533.6 C459.7 533.5 457.4 534.9 456.6 535.2 Z" fill="#fff" stroke="none"/>
<path d="M465.4 519.2 C466.2 519.9 468.6 521.3 470.2 523.2 C471.8 525.1 473.5 527.9 475.0 530.4 C476.5 532.9 477.3 534.2 479.0 538.0 C480.7 541.8 482.2 547.5 485.0 553.0 C487.8 558.5 491.8 565.4 495.8 571.0 C499.8 576.6 504.6 582.0 509.0 586.6 C513.4 591.2 518.2 595.2 522.2 598.6 C526.2 602.0 530.0 604.8 533.0 607.0 C536.0 609.2 538.8 611.0 540.0 611.8" fill="none" stroke="#111" stroke-width="2.2" />
<path d="M456.6 535.2 C457.4 534.9 459.7 533.5 461.4 533.6 C463.1 533.7 465.1 534.0 467.0 536.0 C468.9 538.0 470.6 541.6 473.0 545.8 C475.4 550.0 478.4 555.8 481.4 561.4 C484.4 567.0 487.4 574.0 491.0 579.4 C494.6 584.8 498.6 589.4 503.0 593.8 C507.4 598.2 512.6 602.2 517.4 605.8 C522.2 609.4 528.4 613.4 531.8 615.4 C535.2 617.4 536.8 617.4 537.8 617.8" fill="none" stroke="#111" stroke-width="2.2" />
<path d="M537.8 617.8 C538.4 617.7 540.7 617.6 541.5 617.0 C542.3 616.4 542.8 614.9 542.5 614.0 C542.2 613.1 540.4 612.2 540.0 611.8" fill="none" stroke="#111" stroke-width="2.2" />
<path d="M445.4 532.0 C446.3 531.8 449.4 530.3 451.0 530.6 C452.6 530.9 453.9 532.6 455.0 534.0 C456.1 535.4 456.8 536.7 457.5 539.0 C458.2 541.3 458.9 544.5 459.0 548.0 C459.1 551.5 458.3 558.0 458.2 560.0" fill="none" stroke="#111" stroke-width="2.6" />
<path d="M522.0 599.0 L593.0 583.4" fill="none" stroke="#222" stroke-width="1.5" />
<path d="M723.4 441.7 L722.9 466.3" fill="none" stroke="#111" stroke-width="3.0" stroke-linecap="round" stroke-linejoin="round"/>
<path d="M719.3 441.1 C720.8 441.0 724.8 439.4 728.0 440.5 C731.2 441.6 736.5 445.2 738.7 447.6 C740.9 450.0 741.2 452.5 741.0 454.6 C740.8 456.8 740.4 458.6 737.5 460.5 C734.6 462.4 725.8 465.3 723.4 466.3" fill="none" stroke="#111" stroke-width="3.0" stroke-linecap="round" stroke-linejoin="round"/>
<path d="M746.9 449.9 C747.2 451.2 747.7 455.7 748.5 458.0 C749.3 460.3 750.4 463.3 751.5 463.5 C752.6 463.7 753.8 461.1 755.0 459.0 C756.2 456.9 758.0 452.3 758.6 451.0" fill="none" stroke="#111" stroke-width="3.0" stroke-linecap="round" stroke-linejoin="round"/>
<path d="M767.4 464.0 L772.7 448.8 L778.0 461.6" fill="none" stroke="#111" stroke-width="3.0" stroke-linecap="round" stroke-linejoin="round"/>
<path d="M769.0 457.5 L777.3 457.0" fill="none" stroke="#111" stroke-width="3.0" stroke-linecap="round" stroke-linejoin="round"/>
<path d="M784.4 451.0 L785.6 464.0 L797.3 461.0" fill="none" stroke="#111" stroke-width="3.0" stroke-linecap="round" stroke-linejoin="round"/>
<path d="M710.5 482.7 L712.3 500.3" fill="none" stroke="#111" stroke-width="3.0" stroke-linecap="round" stroke-linejoin="round"/>
<path d="M724.6 481.6 L712.9 491.0 L727.5 500.3" fill="none" stroke="#111" stroke-width="3.0" stroke-linecap="round" stroke-linejoin="round"/>
<path d="M734.0 484.0 L735.2 499.0" fill="none" stroke="#111" stroke-width="3.0" stroke-linecap="round" stroke-linejoin="round"/>
<path d="M740.4 485.0 L741.0 500.3" fill="none" stroke="#111" stroke-width="3.0" stroke-linecap="round" stroke-linejoin="round"/>
<path d="M740.4 485.0 C741.9 484.9 746.9 483.5 749.2 484.5 C751.5 485.5 753.8 488.6 754.0 491.0 C754.2 493.4 752.6 497.4 750.4 499.0 C748.2 500.6 742.6 500.1 741.0 500.3" fill="none" stroke="#111" stroke-width="3.0" stroke-linecap="round" stroke-linejoin="round"/>
<path d="M761.0 500.3 L761.5 485.0 L775.0 499.0 L775.0 482.7" fill="none" stroke="#111" stroke-width="3.0" stroke-linecap="round" stroke-linejoin="round"/>
<path d="M793.8 478.6 L786.7 480.4 L785.6 496.8 L797.3 493.9" fill="none" stroke="#111" stroke-width="3.0" stroke-linecap="round" stroke-linejoin="round"/>
<path d="M785.6 488.6 L792.6 488.0" fill="none" stroke="#111" stroke-width="3.0" stroke-linecap="round" stroke-linejoin="round"/>
<path d="M803.2 479.6 L813.9 487.5" fill="none" stroke="#111" stroke-width="3.0" stroke-linecap="round" stroke-linejoin="round"/>
<path d="M816.0 478.0 L810.7 498.8" fill="none" stroke="#111" stroke-width="3.0" stroke-linecap="round" stroke-linejoin="round"/>
<path d="M834.2 476.4 C832.8 476.8 827.5 477.6 825.6 478.5 C823.7 479.4 823.0 480.8 823.0 482.0 C823.0 483.2 824.1 484.9 825.6 486.0 C827.1 487.1 830.3 487.4 832.0 488.3 C833.7 489.2 835.8 490.3 836.0 491.5 C836.2 492.7 834.8 494.6 833.1 495.6 C831.4 496.6 827.7 497.6 825.6 497.7 C823.5 497.8 821.9 497.1 820.5 496.5 C819.1 495.9 818.0 494.4 817.5 494.0" fill="none" stroke="#111" stroke-width="3.0" stroke-linecap="round" stroke-linejoin="round"/>
<path d="M698.9 522.8 L697.5 541.9" fill="none" stroke="#111" stroke-width="3.0" stroke-linecap="round" stroke-linejoin="round"/>
<path d="M696.8 522.8 C698.8 522.4 706.6 520.0 709.1 520.7 C711.6 521.4 712.4 525.0 711.9 526.9 C711.4 528.8 708.4 531.3 706.4 532.3 C704.4 533.3 700.7 532.9 699.6 533.0" fill="none" stroke="#111" stroke-width="3.0" stroke-linecap="round" stroke-linejoin="round"/>
<path d="M716.7 521.4 L715.3 536.4 L725.5 537.8" fill="none" stroke="#111" stroke-width="3.0" stroke-linecap="round" stroke-linejoin="round"/>
<path d="M733.8 535.0 L739.2 520.0 L745.4 535.8" fill="none" stroke="#111" stroke-width="3.0" stroke-linecap="round" stroke-linejoin="round"/>
<path d="M735.1 528.9 L744.0 528.9" fill="none" stroke="#111" stroke-width="3.0" stroke-linecap="round" stroke-linejoin="round"/>
<path d="M758.4 521.4 C757.5 521.9 754.0 522.3 752.9 524.1 C751.8 525.9 751.3 530.3 751.5 532.3 C751.7 534.2 752.9 535.4 754.3 535.8 C755.7 536.1 758.8 534.6 759.7 534.4" fill="none" stroke="#111" stroke-width="3.0" stroke-linecap="round" stroke-linejoin="round"/>
<path d="M777.5 523.5 L769.3 524.1 L768.6 534.4 L777.5 533.7" fill="none" stroke="#111" stroke-width="3.0" stroke-linecap="round" stroke-linejoin="round"/>
<path d="M769.3 528.9 L780.2 527.6" fill="none" stroke="#111" stroke-width="3.0" stroke-linecap="round" stroke-linejoin="round"/>
<path d="M793.2 520.7 L793.9 532.3" fill="none" stroke="#111" stroke-width="3.0" stroke-linecap="round" stroke-linejoin="round"/>
<path d="M791.2 520.0 C792.3 519.8 796.0 517.6 798.0 518.7 C800.0 519.9 802.8 524.6 803.5 526.9 C804.2 529.2 803.7 531.3 802.1 532.3 C800.5 533.3 795.3 532.9 793.9 533.0" fill="none" stroke="#111" stroke-width="3.0" stroke-linecap="round" stroke-linejoin="round"/>
<ellipse cx="829.3" cy="522" rx="5.8" ry="7.6" transform="rotate(15 829.3 522)" fill="none" stroke="#111" stroke-width="2.8"/>
<path d="M840.6 527.0 L841.0 515.0 L855.5 524.5 L854.5 511.6" fill="none" stroke="#111" stroke-width="3.0" stroke-linecap="round" stroke-linejoin="round"/>
<path d="M732.4 557.0 L732.4 570.6" fill="none" stroke="#111" stroke-width="3.0" stroke-linecap="round" stroke-linejoin="round"/>
<path d="M732.4 557.0 C733.5 556.5 737.2 554.2 739.2 554.2 C741.2 554.2 744.0 555.6 744.7 557.0 C745.4 558.4 744.9 561.3 743.3 562.4 C741.7 563.5 736.5 563.6 735.1 563.8" fill="none" stroke="#111" stroke-width="3.0" stroke-linecap="round" stroke-linejoin="round"/>
<path d="M736.5 563.1 L747.4 570.6" fill="none" stroke="#111" stroke-width="3.0" stroke-linecap="round" stroke-linejoin="round"/>
<path d="M756.3 554.2 L759.7 572.0" fill="none" stroke="#111" stroke-width="3.0" stroke-linecap="round" stroke-linejoin="round"/>
<path d="M778.9 555.6 C777.8 555.6 773.8 554.5 772.0 555.6 C770.2 556.7 768.2 559.9 768.0 562.4 C767.8 564.9 768.9 569.0 770.7 570.6 C772.5 572.2 777.2 572.9 778.9 572.0 C780.6 571.1 781.6 566.6 780.9 565.2 C780.2 563.8 775.8 564.0 774.8 563.8" fill="none" stroke="#111" stroke-width="3.0" stroke-linecap="round" stroke-linejoin="round"/>
<path d="M790.5 557.0 L791.2 570.6" fill="none" stroke="#111" stroke-width="3.0" stroke-linecap="round" stroke-linejoin="round"/>
<path d="M803.5 554.2 L803.5 569.3" fill="none" stroke="#111" stroke-width="3.0" stroke-linecap="round" stroke-linejoin="round"/>
<path d="M791.2 563.1 L803.5 562.4" fill="none" stroke="#111" stroke-width="3.0" stroke-linecap="round" stroke-linejoin="round"/>
<path d="M811.7 552.9 L826.7 551.5" fill="none" stroke="#111" stroke-width="3.0" stroke-linecap="round" stroke-linejoin="round"/>
<path d="M817.8 552.9 L819.9 567.9" fill="none" stroke="#111" stroke-width="3.0" stroke-linecap="round" stroke-linejoin="round"/>
<path d="M772.3 179.2 L777.9 167.6 L782.9 178.8" fill="none" stroke="#111" stroke-width="2.4" stroke-linecap="round" stroke-linejoin="round"/>
<path d="M775.5 174.6 L780.4 174.3" fill="none" stroke="#111" stroke-width="2.0" stroke-linecap="round" stroke-linejoin="round"/>
<ellipse cx="792.7" cy="173.6" rx="3.6" ry="6" fill="none" stroke="#111" stroke-width="3.2"/>
<path d="M805.0 176.4 L803.6 168.6" fill="none" stroke="#111" stroke-width="3.0" stroke-linecap="round" stroke-linejoin="round"/>
<path d="M802.0 169.0 L808.5 167.2" fill="none" stroke="#111" stroke-width="2.8" stroke-linecap="round" stroke-linejoin="round"/>
<path d="M815.6 160.5 L815.6 176.0" fill="none" stroke="#111" stroke-width="3.0" stroke-linecap="round" stroke-linejoin="round"/>
<path d="M813.4 166.2 C814.2 165.5 816.1 162.9 818.0 162.0 C819.9 161.1 823.6 160.8 824.7 160.5" fill="none" stroke="#111" stroke-width="2.8" stroke-linecap="round" stroke-linejoin="round"/>
<path d="M828.2 164.8 C827.4 165.3 824.2 166.3 823.3 167.6 C822.4 168.9 822.1 171.4 822.6 172.5 C823.1 173.6 824.8 174.5 826.1 173.9 C827.4 173.3 829.0 169.3 830.3 169.0 C831.6 168.7 832.5 171.1 833.8 171.8 C835.1 172.5 837.3 173.0 838.0 173.2" fill="none" stroke="#111" stroke-width="3.0" stroke-linecap="round" stroke-linejoin="round"/>
<path d="M428.3 243.0 L428.3 259.9" fill="none" stroke="#111" stroke-width="2.8" stroke-linecap="round" stroke-linejoin="round"/>
<path d="M427.3 245.9 C427.6 244.5 427.8 239.1 429.2 237.5 C430.6 235.9 433.9 235.9 435.8 236.5 C437.7 237.1 439.9 239.2 440.4 241.2 C440.9 243.2 440.2 246.8 438.6 248.7 C437.1 250.6 431.1 250.5 431.1 252.4 C431.1 254.3 437.4 258.6 438.6 259.9" fill="none" stroke="#111" stroke-width="2.8" stroke-linecap="round" stroke-linejoin="round"/>
<path d="M447.0 245.9 L447.9 257.0" fill="none" stroke="#111" stroke-width="2.8" stroke-linecap="round" stroke-linejoin="round"/>
<path d="M443.2 252.4 L455.4 248.7" fill="none" stroke="#111" stroke-width="2.8" stroke-linecap="round" stroke-linejoin="round"/>
<circle cx="459.6" cy="247.7" r="1.7" fill="#111"/>
<path d="M401.2 272.0 L401.7 288.8" fill="none" stroke="#111" stroke-width="2.8" stroke-linecap="round" stroke-linejoin="round"/>
<path d="M409.6 271.0 L402.1 282.3 L408.7 287.9" fill="none" stroke="#111" stroke-width="2.8" stroke-linecap="round" stroke-linejoin="round"/>
<path d="M413.3 279.5 L413.8 287.0" fill="none" stroke="#111" stroke-width="2.8" stroke-linecap="round" stroke-linejoin="round"/>
<path d="M424.5 270.1 L425.5 287.9" fill="none" stroke="#111" stroke-width="2.8" stroke-linecap="round" stroke-linejoin="round"/>
<path d="M424.0 282.0 C423.2 282.1 420.1 281.8 419.0 282.5 C417.9 283.2 417.3 285.1 417.5 286.0 C417.7 286.9 418.8 288.0 420.0 288.0 C421.2 288.0 424.2 286.3 425.0 286.0" fill="none" stroke="#111" stroke-width="2.8" stroke-linecap="round" stroke-linejoin="round"/>
<path d="M429.2 287.5 C429.2 286.6 428.7 283.6 429.2 282.3 C429.7 281.0 431.2 278.9 432.0 279.5 C432.8 280.1 433.6 284.9 433.9 286.0" fill="none" stroke="#111" stroke-width="2.8" stroke-linecap="round" stroke-linejoin="round"/>
<path d="M433.9 278.6 C434.5 278.9 437.9 279.3 437.6 280.4 C437.3 281.5 432.3 283.9 432.0 285.1 C431.7 286.4 434.4 288.0 435.8 287.9 C437.2 287.8 439.6 284.8 440.4 284.2" fill="none" stroke="#111" stroke-width="2.8" stroke-linecap="round" stroke-linejoin="round"/>
<path d="M442.3 274.8 L453.5 280.4" fill="none" stroke="#111" stroke-width="2.8" stroke-linecap="round" stroke-linejoin="round"/>
<path d="M454.4 273.9 L445.1 291.6" fill="none" stroke="#111" stroke-width="2.8" stroke-linecap="round" stroke-linejoin="round"/>
<path d="M392.7 392.7 L395.0 391.3 L394.5 397.0 L394.0 403.3 L400.3 402.7 L406.3 402.0" fill="none" stroke="#111" stroke-width="2.8" stroke-linecap="round" stroke-linejoin="round"/>
<path d="M405.0 395.3 L405.7 402.7" fill="none" stroke="#111" stroke-width="2.8" stroke-linecap="round" stroke-linejoin="round"/>
<path d="M402.3 394.7 L413.0 391.0" fill="none" stroke="#111" stroke-width="2.8" stroke-linecap="round" stroke-linejoin="round"/>
<path d="M383.7 410.7 L384.0 425.3" fill="none" stroke="#111" stroke-width="2.8" stroke-linecap="round" stroke-linejoin="round"/>
<path d="M391.0 409.3 L385.0 417.3 L393.0 420.7" fill="none" stroke="#111" stroke-width="2.8" stroke-linecap="round" stroke-linejoin="round"/>
<path d="M396.3 414.0 L397.0 423.3" fill="none" stroke="#111" stroke-width="2.8" stroke-linecap="round" stroke-linejoin="round"/>
<path d="M411.0 416.0 C410.2 415.8 407.4 414.3 406.0 414.5 C404.6 414.7 402.6 416.4 402.3 417.3 C402.0 418.2 402.6 419.8 404.0 420.0 C405.4 420.2 409.8 418.9 411.0 418.7" fill="none" stroke="#111" stroke-width="2.8" stroke-linecap="round" stroke-linejoin="round"/>
<path d="M411.0 405.3 L411.0 418.7" fill="none" stroke="#111" stroke-width="2.8" stroke-linecap="round" stroke-linejoin="round"/>
<path d="M415.0 415.3 C415.2 414.1 415.6 409.1 416.3 408.0 C417.0 406.9 418.2 407.4 419.0 408.7 C419.8 410.0 420.7 414.8 421.0 416.0" fill="none" stroke="#111" stroke-width="2.8" stroke-linecap="round" stroke-linejoin="round"/>
<path d="M423.0 411.3 C423.4 410.9 424.8 408.6 425.7 408.7 C426.6 408.8 428.3 411.0 428.3 412.0 C428.3 413.0 425.4 414.0 425.7 414.7 C426.0 415.4 429.5 415.8 430.3 416.0" fill="none" stroke="#111" stroke-width="2.8" stroke-linecap="round" stroke-linejoin="round"/>
<path d="M435.7 406.7 C436.5 407.8 438.4 413.3 440.3 413.3 C442.2 413.3 445.9 407.8 447.0 406.7" fill="none" stroke="#111" stroke-width="2.8" stroke-linecap="round" stroke-linejoin="round"/>
<path d="M443.7 416.0 L438.3 424.0" fill="none" stroke="#111" stroke-width="2.8" stroke-linecap="round" stroke-linejoin="round"/>
</svg>
<div class="lbl" style="left:541px;top:158.5px;font-size:19px;-webkit-text-stroke:0.7px #111;">IVC</div>
<div class="lbl" style="left:599px;top:575px;font-size:19px;-webkit-text-stroke:0.7px #111;">Ureter</div>
</body></html>
